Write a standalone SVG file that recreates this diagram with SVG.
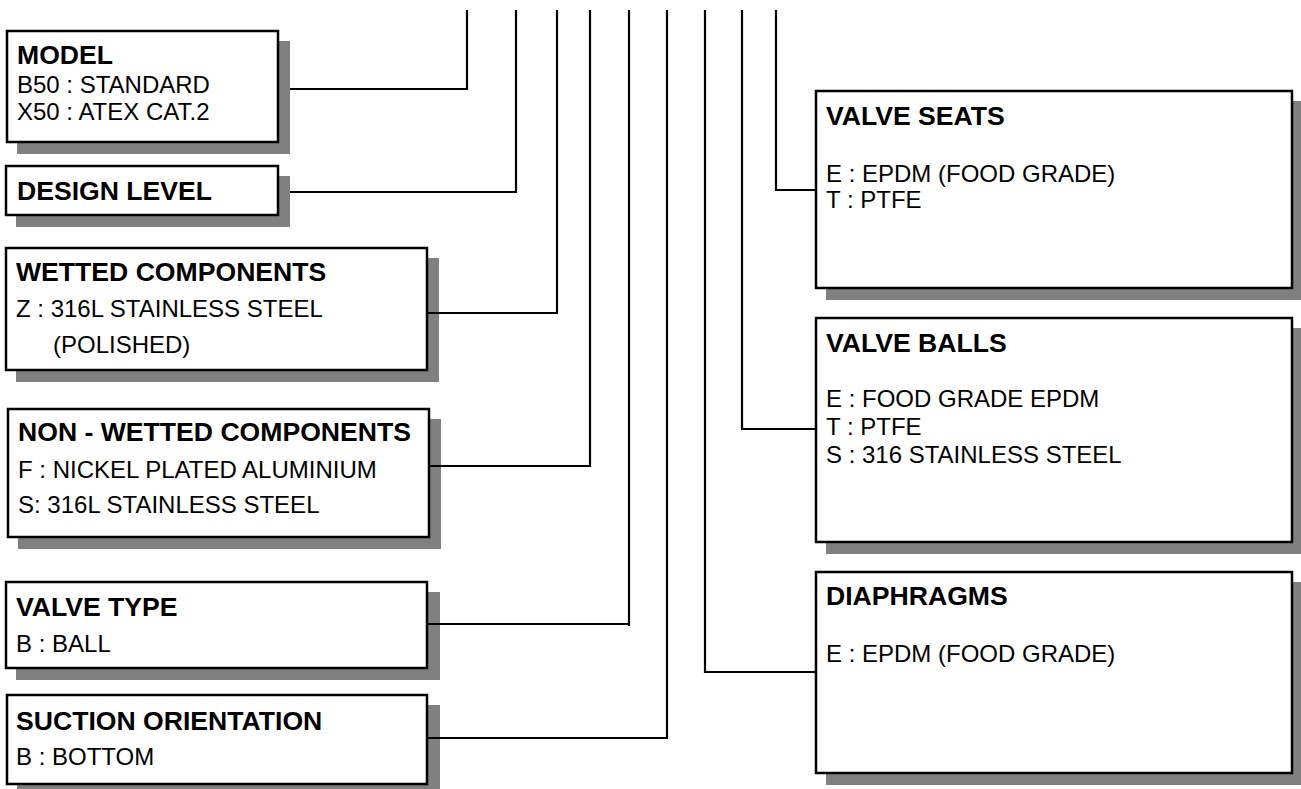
<svg xmlns="http://www.w3.org/2000/svg" width="1301" height="789" viewBox="0 0 1301 789">
<style>
.sh{fill:#808080;stroke:none}
.bx{fill:#fff;stroke:#000;stroke-width:2.5}
.t{font-family:"Liberation Sans",Arial,sans-serif;font-weight:bold;font-size:26.6px;fill:#000}
.r{font-family:"Liberation Sans",Arial,sans-serif;font-size:24px;fill:#000}
.c{fill:none;stroke:#000;stroke-width:2.2}
</style>
<rect width="1301" height="789" fill="#fff"/>
<g id="shadows">
<rect class="sh" x="17" y="41" width="273" height="113"/>
<rect class="sh" x="16" y="176" width="274" height="51"/>
<rect class="sh" x="16" y="258" width="423" height="124"/>
<rect class="sh" x="18" y="419" width="423" height="130"/>
<rect class="sh" x="16" y="592" width="424" height="88"/>
<rect class="sh" x="17" y="705" width="423" height="91"/>
<rect class="sh" x="826" y="101" width="476" height="199"/>
<rect class="sh" x="826" y="328" width="476" height="226"/>
<rect class="sh" x="826" y="582" width="476" height="203"/>
</g>
<g id="connectors">
<path class="c" d="M290,89 H467 V10"/>
<path class="c" d="M290,192 H516 V10"/>
<path class="c" d="M427,313 H557 V10"/>
<path class="c" d="M429,466 H590 V10"/>
<path class="c" d="M427,624 H629 M629,626 V10"/>
<path class="c" d="M427,738 H667 V10"/>
<path class="c" d="M816,672 H705 V10"/>
<path class="c" d="M816,429 H742 V10"/>
<path class="c" d="M816,190 H776 V10"/>
</g>
<g id="model">
<rect class="bx" x="7" y="31" width="271" height="111"/>
<text class="t" x="17" y="64">MODEL</text>
<text class="r" x="17" y="93">B50 : STANDARD</text>
<text class="r" x="17" y="120">X50 : ATEX CAT.2</text>
</g>
<g id="design-level">
<rect class="bx" x="6" y="166" width="272" height="49"/>
<text class="t" x="17" y="200">DESIGN LEVEL</text>
</g>
<g id="wetted">
<rect class="bx" x="6" y="248" width="421" height="122"/>
<text class="t" x="16" y="281">WETTED COMPONENTS</text>
<text class="r" x="16" y="317">Z : 316L STAINLESS STEEL</text>
<text class="r" x="53" y="353">(POLISHED)</text>
</g>
<g id="non-wetted">
<rect class="bx" x="8" y="409" width="421" height="128"/>
<text class="t" x="18" y="441">NON - WETTED COMPONENTS</text>
<text class="r" x="18" y="478">F : NICKEL PLATED ALUMINIUM</text>
<text class="r" x="18" y="513">S: 316L STAINLESS STEEL</text>
</g>
<g id="valve-type">
<rect class="bx" x="6" y="582" width="421" height="86"/>
<text class="t" x="16" y="616">VALVE TYPE</text>
<text class="r" x="16" y="652">B : BALL</text>
</g>
<g id="suction">
<rect class="bx" x="7" y="695" width="420" height="89"/>
<text class="t" x="16" y="730">SUCTION ORIENTATION</text>
<text class="r" x="16" y="765">B : BOTTOM</text>
</g>
<g id="valve-seats">
<rect class="bx" x="816" y="91" width="476" height="197"/>
<text class="t" x="826" y="125">VALVE SEATS</text>
<text class="r" x="826" y="182">E : EPDM (FOOD GRADE)</text>
<text class="r" x="826" y="208">T : PTFE</text>
</g>
<g id="valve-balls">
<rect class="bx" x="816" y="318" width="476" height="224"/>
<text class="t" x="826" y="352">VALVE BALLS</text>
<text class="r" x="826" y="407">E : FOOD GRADE EPDM</text>
<text class="r" x="826" y="435">T : PTFE</text>
<text class="r" x="826" y="463">S : 316 STAINLESS STEEL</text>
</g>
<g id="diaphragms">
<rect class="bx" x="816" y="572" width="476" height="201"/>
<text class="t" x="826" y="605">DIAPHRAGMS</text>
<text class="r" x="826" y="662">E : EPDM (FOOD GRADE)</text>
</g>
</svg>
